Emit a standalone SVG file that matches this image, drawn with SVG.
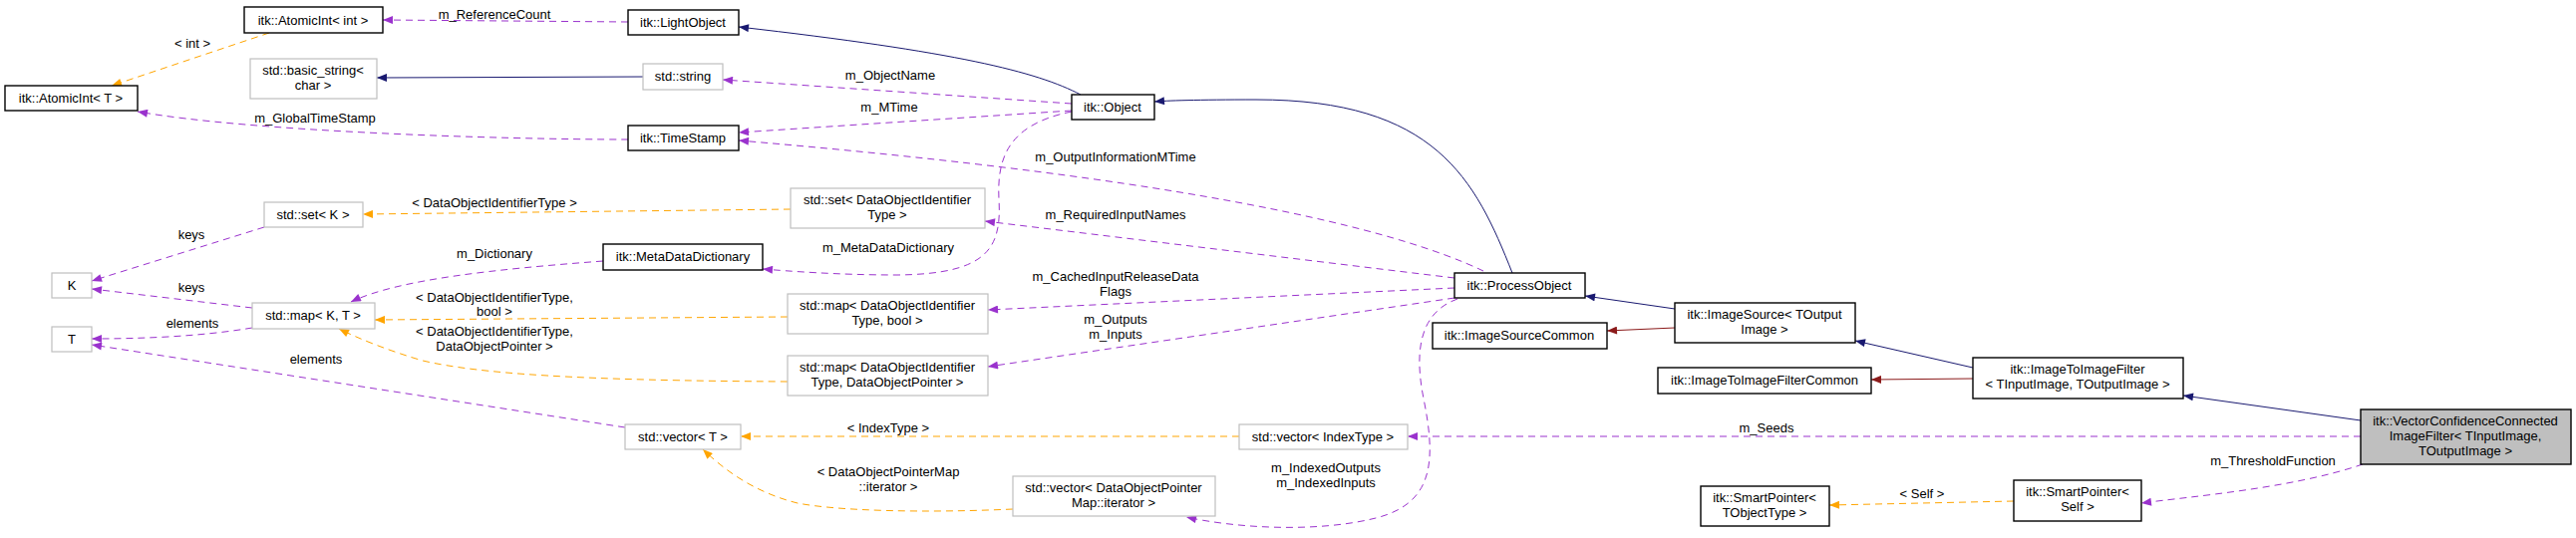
<svg xmlns="http://www.w3.org/2000/svg" width="2584" height="540" viewBox="0 0 2584 540">
<style>
text{font-family:"Liberation Sans",Arial,sans-serif;font-size:13px;fill:#000;text-anchor:middle}
.b rect{fill:#fff;stroke:#000;stroke-width:1.4}
.g rect{fill:#fff;stroke:#bfbfbf;stroke-width:1.2}
.p{fill:none;stroke:#9a32cd;stroke-dasharray:7,5;marker-end:url(#mp)}
.o{fill:none;stroke:#ffa500;stroke-dasharray:7,5;marker-end:url(#mo)}
.n{fill:none;stroke:#191970;marker-end:url(#mn)}
.r{fill:none;stroke:#8b1a1a;marker-end:url(#mr)}
</style>
<defs>
<marker id="mp" viewBox="0 0 10 8" refX="10" refY="4" markerWidth="11" markerHeight="8" orient="auto" markerUnits="userSpaceOnUse"><path d="M0,0L10,4L0,8z" fill="#9a32cd"/></marker>
<marker id="mo" viewBox="0 0 10 8" refX="10" refY="4" markerWidth="11" markerHeight="8" orient="auto" markerUnits="userSpaceOnUse"><path d="M0,0L10,4L0,8z" fill="#ffa500"/></marker>
<marker id="mn" viewBox="0 0 10 8" refX="10" refY="4" markerWidth="11" markerHeight="8" orient="auto" markerUnits="userSpaceOnUse"><path d="M0,0L10,4L0,8z" fill="#191970"/></marker>
<marker id="mr" viewBox="0 0 10 8" refX="10" refY="4" markerWidth="11" markerHeight="8" orient="auto" markerUnits="userSpaceOnUse"><path d="M0,0L10,4L0,8z" fill="#8b1a1a"/></marker>
</defs>
<rect width="2584" height="540" fill="#fff"/>
<g id="edges">
<path class="p" d="M630,22 L384,20"/><text x="496" y="19">m_ReferenceCount</text>
<path class="p" d="M630,140 C500,140 250,132 138,112"/><text x="316" y="123">m_GlobalTimeStamp</text>
<path class="p" d="M1075,104 L725,80"/><text x="893" y="80">m_ObjectName</text>
<path class="p" d="M1075,111 L741,133"/><text x="892" y="112">m_MTime</text>
<path class="p" d="M1488,272 C1400,230 1200,180 741,141"/><text x="1119" y="162">m_OutputInformationMTime</text>
<path class="p" d="M1459,279 L988,222"/><text x="1119" y="220">m_RequiredInputNames</text>
<path class="p" d="M1075,112 C1010,125 1000,160 1002,200 C1005,250 990,275 900,276 C840,276 790,272 765,270"/><text x="891" y="253">m_MetaDataDictionary</text>
<path class="p" d="M1459,289 L991,311"/><text x="1119" y="282">m_CachedInputReleaseData</text><text x="1119" y="297">Flags</text>
<path class="p" d="M1459,299 L991,368"/><text x="1119" y="325">m_Outputs</text><text x="1119" y="340">m_Inputs</text>
<path class="p" d="M1462,300 C1420,315 1420,360 1428,400 C1440,460 1440,505 1380,520 C1320,535 1240,530 1190,519"/><text x="1330" y="474">m_IndexedOutputs</text><text x="1330" y="489">m_IndexedInputs</text>
<path class="p" d="M2368,438 L1412,438"/><text x="1772" y="434">m_Seeds</text>
<path class="p" d="M2370,466 C2300,490 2200,498 2148,505"/><text x="2280" y="467">m_ThresholdFunction</text>
<path class="p" d="M605,262 C500,270 400,280 352,303"/><text x="496" y="259">m_Dictionary</text>
<path class="p" d="M265,228 L92,282"/><text x="192" y="240">keys</text>
<path class="p" d="M253,309 L92,290"/><text x="192" y="293">keys</text>
<path class="p" d="M253,329 C200,338 140,340 92,340"/><text x="193" y="329">elements</text>
<path class="p" d="M627,429 L92,346"/><text x="317" y="365">elements</text>
<path class="o" d="M270,33 L112,86"/><text x="193" y="48">&lt; int &gt;</text>
<path class="o" d="M793,210 L364,215"/><text x="496" y="208">&lt; DataObjectIdentifierType &gt;</text>
<path class="o" d="M790,318 L376,321"/><text x="496" y="303">&lt; DataObjectIdentifierType,</text><text x="496" y="317">bool &gt;</text>
<path class="o" d="M790,383 C580,382 480,375 424,362 C390,352 360,340 340,330"/><text x="496" y="337">&lt; DataObjectIdentifierType,</text><text x="496" y="352">DataObjectPointer &gt;</text>
<path class="o" d="M1243,438 L743,438"/><text x="891" y="434">&lt; IndexType &gt;</text>
<path class="o" d="M1016,511 C930,515 841,513 800,505 C760,495 730,475 705,451"/><text x="891" y="478">&lt; DataObjectPointerMap</text><text x="891" y="493">::iterator &gt;</text>
<path class="o" d="M2020,503 L1835,507"/><text x="1928" y="500">&lt; Self &gt;</text>
<path class="n" d="M1084,95 C1040,72 960,52 741,27"/>
<path class="n" d="M645,77 L378,78"/>
<path class="n" d="M1517,274 C1480,180 1440,100 1260,100 C1200,100 1170,101 1158,102"/>
<path class="n" d="M1680,310 L1590,297"/>
<path class="n" d="M1979,369 L1861,342"/>
<path class="n" d="M2368,422 L2190,397"/>
<path class="r" d="M1680,329 L1612,332"/>
<path class="r" d="M1979,380 L1877,381"/>
</g>
<g id="n_atomicint_int" class="b"><rect x="245" y="7" width="139" height="26"/><text x="314" y="25">itk::AtomicInt&lt; int &gt;</text></g>
<g id="n_atomicint_t" class="b"><rect x="5" y="86" width="133" height="25"/><text x="71" y="103">itk::AtomicInt&lt; T &gt;</text></g>
<g id="n_basic_string" class="g"><rect x="251" y="59" width="127" height="40"/><text x="314" y="75">std::basic_string&lt;</text><text x="314" y="90">char &gt;</text></g>
<g id="n_set_k" class="g"><rect x="265" y="203" width="99" height="25"/><text x="314" y="220">std::set&lt; K &gt;</text></g>
<g id="n_k" class="g"><rect x="52" y="274" width="40" height="25"/><text x="72" y="291">K</text></g>
<g id="n_map_kt" class="g"><rect x="253" y="304" width="123" height="26"/><text x="314" y="321">std::map&lt; K, T &gt;</text></g>
<g id="n_t" class="g"><rect x="52" y="328" width="40" height="25"/><text x="72" y="345">T</text></g>
<g id="n_lightobject" class="b"><rect x="630" y="10" width="111" height="25"/><text x="685" y="27">itk::LightObject</text></g>
<g id="n_string" class="g"><rect x="645" y="64" width="80" height="26"/><text x="685" y="81">std::string</text></g>
<g id="n_timestamp" class="b"><rect x="630" y="126" width="111" height="25"/><text x="685" y="143">itk::TimeStamp</text></g>
<g id="n_set_doit" class="g"><rect x="793" y="189" width="195" height="40"/><text x="890" y="205">std::set&lt; DataObjectIdentifier</text><text x="890" y="220">Type &gt;</text></g>
<g id="n_metadatadictionary" class="b"><rect x="605" y="245" width="160" height="26"/><text x="685" y="262">itk::MetaDataDictionary</text></g>
<g id="n_map_bool" class="g"><rect x="790" y="295" width="201" height="40"/><text x="890" y="311">std::map&lt; DataObjectIdentifier</text><text x="890" y="326">Type, bool &gt;</text></g>
<g id="n_map_dop" class="g"><rect x="790" y="357" width="201" height="40"/><text x="890" y="373">std::map&lt; DataObjectIdentifier</text><text x="890" y="388">Type, DataObjectPointer &gt;</text></g>
<g id="n_vector_t" class="g"><rect x="627" y="426" width="116" height="25"/><text x="685" y="443">std::vector&lt; T &gt;</text></g>
<g id="n_object" class="b"><rect x="1075" y="95" width="83" height="25"/><text x="1116" y="112">itk::Object</text></g>
<g id="n_vector_index" class="g"><rect x="1243" y="426" width="169" height="25"/><text x="1327" y="443">std::vector&lt; IndexType &gt;</text></g>
<g id="n_vector_iter" class="g"><rect x="1016" y="478" width="203" height="40"/><text x="1117" y="494">std::vector&lt; DataObjectPointer</text><text x="1117" y="509">Map::iterator &gt;</text></g>
<g id="n_processobject" class="b"><rect x="1459" y="274" width="131" height="25"/><text x="1524" y="291">itk::ProcessObject</text></g>
<g id="n_imagesourcecommon" class="b"><rect x="1437" y="324" width="175" height="26"/><text x="1524" y="341">itk::ImageSourceCommon</text></g>
<g id="n_imagesource" class="b"><rect x="1680" y="304" width="181" height="40"/><text x="1770" y="320">itk::ImageSource&lt; TOutput</text><text x="1770" y="335">Image &gt;</text></g>
<g id="n_itifcommon" class="b"><rect x="1663" y="369" width="214" height="26"/><text x="1770" y="386">itk::ImageToImageFilterCommon</text></g>
<g id="n_smartpointer_t" class="b"><rect x="1706" y="488" width="129" height="40"/><text x="1770" y="504">itk::SmartPointer&lt;</text><text x="1770" y="519">TObjectType &gt;</text></g>
<g id="n_itif" class="b"><rect x="1979" y="359" width="211" height="41"/><text x="2084" y="375">itk::ImageToImageFilter</text><text x="2084" y="390">&lt; TInputImage, TOutputImage &gt;</text></g>
<g id="n_smartpointer_self" class="b"><rect x="2020" y="482" width="128" height="41"/><text x="2084" y="498">itk::SmartPointer&lt;</text><text x="2084" y="513">Self &gt;</text></g>
<g id="n_vccif" class="b"><rect x="2368" y="411" width="211" height="55" style="fill:#bfbfbf"/><text x="2473" y="427">itk::VectorConfidenceConnected</text><text x="2473" y="442">ImageFilter&lt; TInputImage,</text><text x="2473" y="457">TOutputImage &gt;</text></g>
</svg>
